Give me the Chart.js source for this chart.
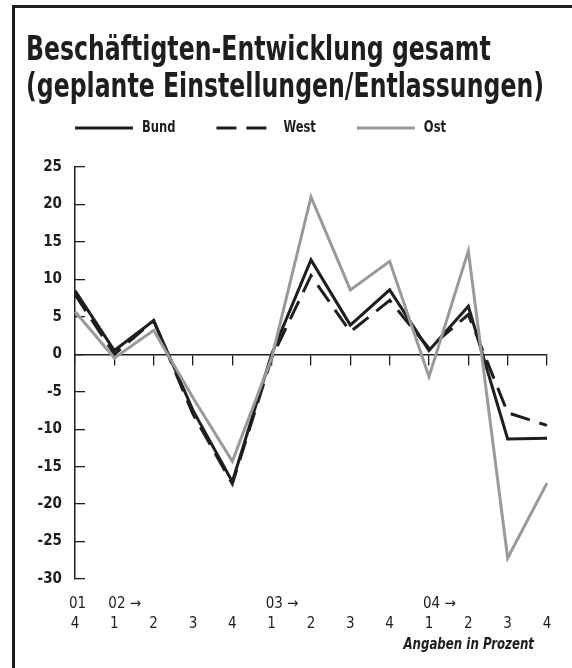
<!DOCTYPE html>
<html lang="de">
<head>
<meta charset="utf-8">
<title>Beschäftigten-Entwicklung gesamt</title>
<script src="https://cdn.jsdelivr.net/npm/chart.js@4"></script>
<style>
  html, body { margin: 0; padding: 0; background: #fff; }
  #wrap  { position: relative; width: 572px; height: 668px; }
  #frame { position: absolute; left: 12px; top: 5px; right: 0; bottom: 0;
           border-top: 3px solid #1e1e1e; border-left: 3px solid #1e1e1e; }
  #chart { position: absolute; left: 0; top: 0; }
</style>
</head>
<body>
<div id="wrap">
  <div id="frame"></div>
  <canvas id="chart" width="572" height="668"></canvas>
</div>
<script>
/* ── Daten (in Prozent) ───────────────────────────────────────────── */
const quarters = ['4', '1', '2', '3', '4', '1', '2', '3', '4', '1', '2', '3', '4'];
const years    = ['01', '02 →', '', '', '', '03 →', '', '', '', '04 →', '', '', ''];
const bund = [8.5, 0.5, 4.5, -7.5, -17.0, 0.0, 12.6, 3.9, 8.6, 0.5, 6.4, -11.3, -11.2];
const west = [8.0, 0.0, 4.5, -8.0, -17.3, -0.5, 10.5, 3.0, 7.2, 0.8, 5.3, -7.8, -9.5];
const ost  = [5.7, -0.5, 3.2, -5.8, -14.3, -0.5, 21.0, 8.6, 12.4, -3.0, 13.8, -27.2, -17.2];
const seriesNames = ['Bund', 'West', 'Ost'];
const yMin = -30, yMax = 25, yStep = 5;

const INK  = '#1e1e1e';
const GREY = '#9a9a9a';
const FONT = "'Liberation Sans Narrow', 'DejaVu Sans Condensed', 'Arial Narrow', sans-serif";

const titleLines = ['Beschäftigten-Entwicklung gesamt', '(geplante Einstellungen/Entlassungen)'];
const footnote   = 'Angaben in Prozent';

/* Schmal gesetzter Text: Schrift horizontal stauchen (Original = Futura Condensed) */
function drawNarrow(ctx, text, x, y, font, squeeze, align) {
  ctx.save();
  ctx.font = font;
  ctx.textAlign = align || 'left';
  ctx.translate(x, y);
  ctx.scale(squeeze, 1);
  ctx.fillText(text, 0, 0);
  ctx.restore();
  ctx.font = font;
  return ctx.measureText(text).width * squeeze;
}

/* ── Titel, Legende, Fußnote von Hand ───────────────────────────────── */
const textPlugin = {
  id: 'handText',
  afterDraw(chart) {
    const ctx = chart.ctx;
    ctx.save();
    ctx.fillStyle = INK;

    // Titel: Zeile 2 soll 27..545 füllen
    const tFont = `bold 34px ${FONT}`;
    ctx.font = tFont;
    const squeeze = 518 / ctx.measureText(titleLines[1]).width;
    ctx.textBaseline = 'alphabetic';
    drawNarrow(ctx, titleLines[0], 26, 60, tFont, squeeze);
    drawNarrow(ctx, titleLines[1], 26, 97, tFont, squeeze);

    // Legende
    const y = 128;
    let x = 75;
    const lFont = `bold 16px ${FONT}`;
    ctx.textBaseline = 'middle';
    chart.data.datasets.forEach(ds => {
      ctx.strokeStyle = ds.borderColor;
      ctx.lineWidth = ds.borderWidth;
      ctx.setLineDash(ds.borderDash || []);
      ctx.beginPath();
      ctx.moveTo(x, y);
      ctx.lineTo(x + 58, y);
      ctx.stroke();
      ctx.setLineDash([]);
      const w = drawNarrow(ctx, ds.label, x + 67, y, lFont, 0.8);
      x += 67 + w + 41;
    });

    // Fußnote
    drawNarrow(ctx, footnote, 534, 645, `italic bold 16px ${FONT}`, 0.82, 'right');
    ctx.restore();
  },
};

const lineBase = { borderWidth: 3, pointRadius: 0, tension: 0, borderJoinStyle: 'miter', borderCapStyle: 'butt', fill: false };

new Chart(document.getElementById('chart').getContext('2d'), {
  type: 'line',
  data: {
    labels: quarters,
    datasets: [
      { ...lineBase, label: seriesNames[0], data: bund, borderColor: INK,  order: 1 },
      { ...lineBase, label: seriesNames[1], data: west, borderColor: INK,  borderDash: [20, 10], order: 2 },
      { ...lineBase, label: seriesNames[2], data: ost,  borderColor: GREY, order: 0 },
    ],
  },
  options: {
    responsive: false,
    animation: false,
    devicePixelRatio: 1,
    layout: { padding: { left: 25, right: 25, top: 167, bottom: 34.6 } },
    plugins: {
      legend:  { display: false },
      tooltip: { enabled: false },
      title:   { display: false },
    },
    scales: {
      x: {
        type: 'category',
        weight: 2,
        offset: false,
        grid: { display: false, drawTicks: false },
        border: { display: false },
        ticks: { color: INK, autoSkip: false, maxRotation: 0, padding: 0.6,
                 font: { family: FONT, size: 15, lineHeight: 1.2 } },
      },
      xYear: {
        type: 'category',
        position: 'bottom',
        weight: 1,
        offset: false,
        labels: years,
        grid: { display: true, drawOnChartArea: false, drawTicks: true, tickLength: 16, color: 'rgba(0,0,0,0)' },
        border: { display: false },
        ticks: { color: INK, autoSkip: false, maxRotation: 0, padding: 0.6, align: 'start', labelOffset: -6,
                 font: { family: FONT, size: 15, lineHeight: 1.2 } },
      },
      xZero: {
        type: 'category',
        position: { y: 0 },
        offset: false,
        labels: quarters,
        grid: { display: true, drawOnChartArea: false, drawTicks: true, tickLength: 10, color: INK, lineWidth: 1.3 },
        border: { display: true, color: INK, width: 1.5 },
        ticks: { display: false },
      },
      y: {
        min: yMin,
        max: yMax,
        grid: { display: true, drawOnChartArea: false, drawTicks: true, tickLength: -10, color: INK, lineWidth: 1.3 },
        border: { display: true, color: INK, width: 1.5 },
        ticks: { stepSize: yStep, color: INK, padding: 23,
                 font: { family: FONT, weight: 'bold', size: 15 } },
        afterFit: (scale) => { scale.width = 50; },
      },
    },
  },
  plugins: [textPlugin],
});
</script>
</body>
</html>
